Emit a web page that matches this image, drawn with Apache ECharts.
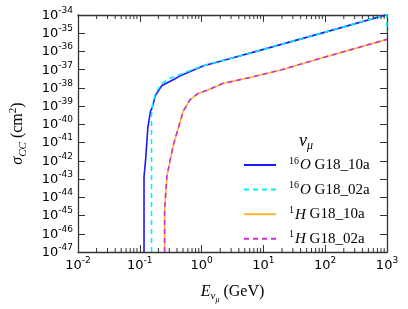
<!DOCTYPE html>
<html><head><meta charset="utf-8">
<script src="https://cdn.jsdelivr.net/npm/echarts@6/dist/echarts.min.js"></script>
<style>html,body{margin:0;padding:0;background:#fff}#c{width:408px;height:309px}</style>
</head><body><div id="c"></div><script>
// Tick exponents (log10)
const xTickExp = [-2, -1, 0, 1, 2, 3];
const yTickExp = [-47, -46, -45, -44, -43, -42, -41, -40, -39, -38, -37, -36, -35, -34];

const seriesNames = ['16O G18_10a', '16O G18_02a', '1H G18_10a', '1H G18_02a'];
const legendLabels = ['{sup|16}{it|O} G18_10a', '{sup|16}{it|O} G18_02a', '{sup|1}{it|H} G18_10a', '{sup|1}{it|H} G18_02a'];

// Energy (GeV) and cross section (cm^2)
const o10E = [0.117, 0.117, 0.124, 0.135, 0.149, 0.158, 0.179, 0.228, 0.373, 0.453, 1.05, 2.83, 10, 100, 1000];
const o10S = [1e-47, 1.35e-43, 1.1e-42, 6.6e-41, 5.4e-40, 7.8e-40, 3.9e-39, 1.35e-38, 3.2e-38, 4.7e-38, 1.6e-37, 4.0e-37, 1.3e-36, 1.15e-35, 1.05e-34];

const o02E = [0.155, 0.155, 0.162, 0.178, 0.229, 0.316, 0.457, 1.05, 2.83, 10, 100, 990, 1000];
const o02S = [1e-47, 4e-40, 1.26e-39, 5e-39, 1.8e-38, 3.5e-38, 5.6e-38, 1.66e-37, 4.0e-37, 1.3e-36, 1.15e-35, 1.05e-34, 1.2e-35];

const h10E = [0.252, 0.252, 0.274, 0.310, 0.351, 0.421, 0.506, 0.647, 0.877, 1.26, 2.19, 6.58, 19.8, 100, 1000];
const h10S = [1e-47, 2.2e-45, 1.35e-43, 1.1e-42, 7.9e-42, 6.6e-41, 5.4e-40, 2.2e-39, 5.0e-39, 7.6e-39, 1.74e-38, 4.0e-38, 1.0e-37, 5.0e-37, 4.6e-36];

const h02E = h10E.slice();
const h02S = h10S.slice();

const colors = ['#1a1aff', '#00f0f0', '#ffb733', '#cc33cc'];
const lineTypes = ['solid', [5, 4], 'solid', [5, 4]];

const toLog = (E, S) => E.map((e, i) => [Math.log10(e), Math.log10(S[i])]);
const dataSets = [toLog(o10E, o10S), toLog(o02E, o02S), toLog(h10E, h10S), toLog(h02E, h02S)];

const xMin = xTickExp[0], xMax = xTickExp[xTickExp.length - 1];
const yMin = yTickExp[0], yMax = yTickExp[yTickExp.length - 1];

// minor tick positions (log10 of 2..9 in each decade)
const minorX = [];
for (let d = xMin; d < xMax; d++) for (let k = 2; k <= 9; k++) minorX.push([d + Math.log10(k), yMin]);

const axisColor = '#333';
const serif = 'Liberation Serif';
const sans = 'DejaVu Sans';
const powFmt = v => '{b|10}{s|' + Math.round(v) + '}';
const powRich = {
  b: { fontFamily: sans, fontSize: 13, color: '#000', verticalAlign: 'bottom', lineHeight: 14 },
  s: { fontFamily: sans, fontSize: 9, color: '#000', verticalAlign: 'bottom', lineHeight: 14, padding: [0, 0, 7, 0] }
};

const chart = echarts.init(document.getElementById('c'), null, { renderer: 'canvas' });
const series = seriesNames.map((n, i) => ({
  type: 'line', name: n, data: dataSets[i], symbol: 'none', smooth: false,
  lineStyle: { color: colors[i], width: 1.6, type: lineTypes[i] },
  itemStyle: { color: colors[i] }, z: 3 + i
}));
series.push({
  type: 'custom', silent: true, data: minorX, z: 10,
  renderItem: (params, api) => {
    const x = api.value(0);
    const pb = api.coord([x, yMin]);
    const pt = api.coord([x, yMax]);
    return { type: 'group', children: [
      { type: 'line', shape: { x1: pb[0], y1: pb[1], x2: pb[0], y2: pb[1] - 4 }, style: { stroke: axisColor, lineWidth: 1 } },
      { type: 'line', shape: { x1: pt[0], y1: pt[1], x2: pt[0], y2: pt[1] + 4 }, style: { stroke: axisColor, lineWidth: 1 } }
    ] };
  }
});

chart.setOption({
  animation: false,
  backgroundColor: '#fff',
  grid: { left: 73, right: 21, top: 15, bottom: 52 },
  title: {
    text: '{n|ν}{m|μ}', left: 294, top: 127,
    textStyle: { fontWeight: 'normal', rich: {
      n: { fontFamily: serif, fontStyle: 'italic', fontWeight: 'normal', fontSize: 18, color: '#000', verticalAlign: 'top', lineHeight: 20 },
      m: { fontFamily: serif, fontStyle: 'italic', fontWeight: 'normal', fontSize: 12, color: '#000', verticalAlign: 'top', lineHeight: 20, padding: [8, 0, 0, 0] }
    } }
  },
  legend: {
    data: seriesNames, orient: 'vertical', left: 238, top: 151,
    itemWidth: 32, itemHeight: 14, itemGap: 7.6,
    itemStyle: { opacity: 0 },
    formatter: name => legendLabels[seriesNames.indexOf(name)],
    textStyle: { fontFamily: serif, fontSize: 15, color: '#000', padding: [0, 0, 0, 8],
      rich: {
        sup: { fontFamily: serif, fontSize: 10, color: '#000', verticalAlign: 'bottom', lineHeight: 16, padding: [0, 1, 7, 0] },
        it: { fontFamily: serif, fontStyle: 'italic', fontSize: 15, color: '#000', verticalAlign: 'bottom', lineHeight: 16 }
      } }
  },
  xAxis: [{
    type: 'value', min: xMin, max: xMax, interval: 1, position: 'bottom',
    name: '{e|E}{s|ν}{ss|μ}{n| (GeV)}', nameLocation: 'middle', nameGap: 30,
    nameTextStyle: { rich: {
      e: { fontFamily: serif, fontStyle: 'italic', fontSize: 16, color: '#000', verticalAlign: 'bottom', lineHeight: 18 },
      s: { fontFamily: serif, fontStyle: 'italic', fontSize: 11, color: '#000', verticalAlign: 'bottom', lineHeight: 18, padding: [0, 0, -2, 0] },
      ss: { fontFamily: serif, fontStyle: 'italic', fontSize: 8, color: '#000', verticalAlign: 'bottom', lineHeight: 18, padding: [0, 0, -4, 0] },
      n: { fontFamily: serif, fontSize: 16, color: '#000', verticalAlign: 'bottom', lineHeight: 18 }
    } },
    axisLine: { show: true, onZero: false, lineStyle: { color: axisColor, width: 1.3 } },
    axisTick: { show: true, inside: true, length: 7, lineStyle: { color: axisColor, width: 1 } },
    axisLabel: { formatter: powFmt, rich: powRich, margin: 6 },
    splitLine: { show: false }
  }, {
    type: 'value', min: xMin, max: xMax, interval: 1, position: 'top',
    axisLine: { show: true, onZero: false, lineStyle: { color: axisColor, width: 1.3 } },
    axisTick: { show: true, inside: true, length: 7, lineStyle: { color: axisColor, width: 1 } },
    axisLabel: { show: false }, splitLine: { show: false }
  }],
  yAxis: [{
    type: 'value', min: yMin, max: yMax, interval: 1, position: 'left',
    name: '{s|σ}{c|CC}{n| (cm}{p|2}{n|)}', nameLocation: 'middle', nameGap: 52,
    nameTextStyle: { rich: {
      s: { fontFamily: serif, fontStyle: 'italic', fontSize: 16, color: '#000', verticalAlign: 'bottom', lineHeight: 18 },
      c: { fontFamily: serif, fontStyle: 'italic', fontSize: 11, color: '#000', verticalAlign: 'bottom', lineHeight: 18, padding: [0, 0, -3, 0] },
      n: { fontFamily: serif, fontSize: 16, color: '#000', verticalAlign: 'bottom', lineHeight: 18 },
      p: { fontFamily: serif, fontSize: 11, color: '#000', verticalAlign: 'bottom', lineHeight: 18, padding: [0, 0, 7, 0] }
    } },
    axisLine: { show: true, onZero: false, lineStyle: { color: axisColor, width: 1.3 } },
    axisTick: { show: true, inside: true, length: 7, lineStyle: { color: axisColor, width: 1 } },
    axisLabel: { formatter: powFmt, rich: powRich, margin: 5 },
    splitLine: { show: false }
  }, {
    type: 'value', min: yMin, max: yMax, interval: 1, position: 'right',
    axisLine: { show: true, onZero: false, lineStyle: { color: axisColor, width: 1.3 } },
    axisTick: { show: true, inside: true, length: 7, lineStyle: { color: axisColor, width: 1 } },
    axisLabel: { show: false }, splitLine: { show: false }
  }],
  series: series
});
</script></body></html>
